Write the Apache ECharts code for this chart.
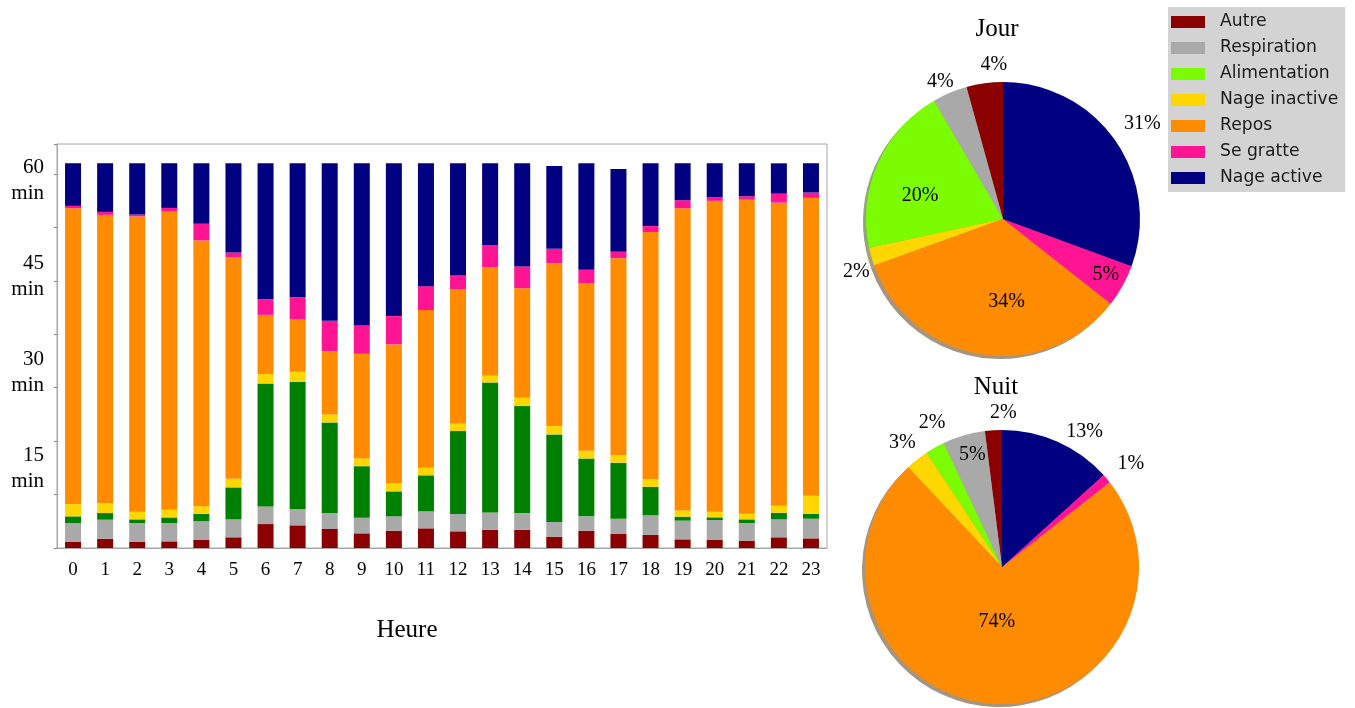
<!DOCTYPE html>
<html><head><meta charset="utf-8">
<script src="https://cdn.jsdelivr.net/npm/echarts@6/dist/echarts.min.js"></script>
<style>html,body{margin:0;padding:0;background:#fff}#c{width:1355px;height:708px}</style>
</head><body><div id="c"></div>
<script>
// ---- data ----
const hours = ['0','1','2','3','4','5','6','7','8','9','10','11','12','13','14','15','16','17','18','19','20','21','22','23'];
const categories = ['Autre','Respiration','Alimentation','Nage inactive','Repos','Se gratte','Nage active'];
// seconds per hour
const autre        = [56,87,56,62,75,100,224,212,178,137,162,184,156,171,171,106,162,131,122,81,75,69,100,90];
const respiration  = [178,178,178,171,175,168,165,150,146,146,134,159,162,162,156,137,134,143,184,175,187,165,168,184];
const alimentation = [62,62,34,53,69,299,1150,1191,851,483,234,337,776,1216,1001,820,542,524,265,37,25,34,62,47];
const nageInactive = [115,94,72,72,72,81,90,97,75,72,75,72,72,62,78,78,72,72,75,59,53,53,65,168];
const repos        = [2768,2696,2762,2790,2487,2070,552,492,592,979,1300,1474,1253,1016,1025,1524,1565,1842,2310,2827,2908,2939,2836,2787];
const seGratte     = [22,28,19,34,156,47,146,206,284,265,265,224,131,209,203,134,128,59,56,75,34,31,84,50];
const nageActive   = [399,455,480,418,567,835,1272,1253,1474,1518,1431,1150,1050,764,966,776,997,776,589,346,318,309,284,274];
// pie shares (%)
const jourPct = [4.3,4.1,20.0,2.1,33.9,5.0,30.6];
const nuitPct = [2.0,5.0,2.3,2.7,73.6,1.1,13.3];
const yLabelValues = [900,1800,2700,3600];

// ---- styles ----
const barColors = ['#8b0000','#a9a9a9','#008000','#ffd700','#ff8c00','#ff1493','#000080'];
const pieColors = ['#8b0000','#a9a9a9','#7cfc00','#ffd700','#ff8c00','#ff1493','#000080'];
const serif = '"Liberation Serif", "Times New Roman", serif';
const sans = '"DejaVu Sans", sans-serif';
const R = 137;
const pies = [
  {title:'Jour', values:jourPct, center:[1003,219], titleTop:17,
   labelDist:[1.12,1.08,0.6,1.13,0.59,0.83,1.2],
   labelNudge:[[12,1],[-4,2],[-5,11],[5,9],[17,0],[1,-1],[2,1]]},
  {title:'Nuit', values:nuitPct, center:[1002,567], titleTop:375,
   labelDist:[1.09,0.83,1.14,1.14,0.39,1.18,1.14],
   labelNudge:[[11,-2],[3,0],[8,-5],[-1,1],[-1,-2],[3,3],[18,10]]}
];
function shade(hex){
  const n = parseInt(hex.slice(1),16);
  const r=(n>>16)&255, g=(n>>8)&255, b=n&255;
  return `rgba(${Math.round(r*0.3)},${Math.round(g*0.3)},${Math.round(b*0.3)},0.5)`;
}

const barData = [autre,respiration,alimentation,nageInactive,repos,seGratte,nageActive];
const series = [];
barData.forEach((arr,i)=>series.push({
  type:'bar', name:categories[i], stack:'h', data:arr, barWidth:16,
  xAxisIndex:0, yAxisIndex:0,
  itemStyle:{color:barColors[i]}, emphasis:{disabled:true}
}));
pies.forEach(p=>{
  const base = {type:'pie', startAngle:90, clockwise:false, silent:true, avoidLabelOverlap:false,
    emphasis:{disabled:true}, labelLine:{show:false}, animation:false};
  series.push(Object.assign({}, base, {center:[p.center[0]-3,p.center[1]+3], radius:[0,R],
    data:p.values.map((v,i)=>({name:categories[i], value:v, itemStyle:{color:shade(pieColors[i])}})),
    label:{show:false}}));
  series.push(Object.assign({}, base, {center:p.center, radius:[0,R],
    data:p.values.map((v,i)=>({name:categories[i], value:v, itemStyle:{color:pieColors[i]}})),
    label:{show:false}}));
  p.labelDist.forEach((d,k)=>{
    series.push(Object.assign({}, base, {center:p.center, radius:[d*R-1,d*R+1],
      data:p.values.map((v,i)=>({name:categories[i], value:v, label:{show:i===k}})),
      itemStyle:{color:'rgba(0,0,0,0)'},
      labelLayout:{dx:p.labelNudge[k][0], dy:p.labelNudge[k][1], hideOverlap:false},
      label:{position:'inside', formatter:q=>Math.round(q.percent)+'%', fontFamily:serif, fontSize:20, color:'#000'}}));
  });
});

const chart = echarts.init(document.getElementById('c'));
chart.setOption({
  animation:false,
  backgroundColor:'#fff',
  title: pies.map(p=>({text:p.title, left:p.center[0]-6, top:p.titleTop, textAlign:'center', padding:0,
    textStyle:{fontFamily:serif, fontSize:25, fontWeight:'normal', color:'#000'}}))
    .concat([{text:'Heure', left:407, top:618, textAlign:'center', padding:0,
      textStyle:{fontFamily:serif, fontSize:25, fontWeight:'normal', color:'#000'}}]),
  legend:{
    orient:'vertical', left:1168, top:7, backgroundColor:'#d3d3d3', borderRadius:0,
    padding:[6,7,5,3], itemWidth:34, itemHeight:12, itemGap:8, icon:'rect', selectedMode:false,
    textStyle:{fontFamily:sans, fontSize:17.2, color:'#1a1a1a', lineHeight:18, padding:[0,0,0,10]},
    data: categories.map((c,i)=>({name:c, itemStyle:{color:pieColors[i]}}))
  },
  grid:{left:57, top:144, width:770, height:404, show:true, borderColor:'#a6a6a6', borderWidth:1, containLabel:false},
  xAxis:{
    type:'category', data:hours, boundaryGap:true,
    axisLine:{lineStyle:{color:'#a6a6a6'}},
    axisTick:{alignWithLabel:true, length:4, lineStyle:{color:'#888'}},
    axisLabel:{fontFamily:serif, fontSize:19, color:'#000', margin:13}
  },
  yAxis:[
    {type:'value', min:0, max:3780, interval:500,
     axisLine:{show:true, lineStyle:{color:'#a6a6a6'}},
     axisTick:{show:true, length:3, lineStyle:{color:'#888'}},
     axisLabel:{show:false}, splitLine:{show:false}},
    {type:'value', min:0, max:3780, interval:900, position:'left',
     axisLine:{show:false}, axisTick:{show:false}, splitLine:{show:false},
     axisLabel:{show:true, showMinLabel:false, showMaxLabel:false, margin:13,
       formatter:v=>yLabelValues.includes(v) ? '{a|'+(v/60)+'}\n{b|min}' : '',
       verticalAlign:'top', align:'right',
       rich:{
         a:{fontFamily:serif, fontSize:21, color:'#000', lineHeight:8, align:'right'},
         b:{fontFamily:serif, fontSize:21, color:'#000', lineHeight:44, align:'right'}
       }}}
  ],
  series: series
});
</script></body></html>
